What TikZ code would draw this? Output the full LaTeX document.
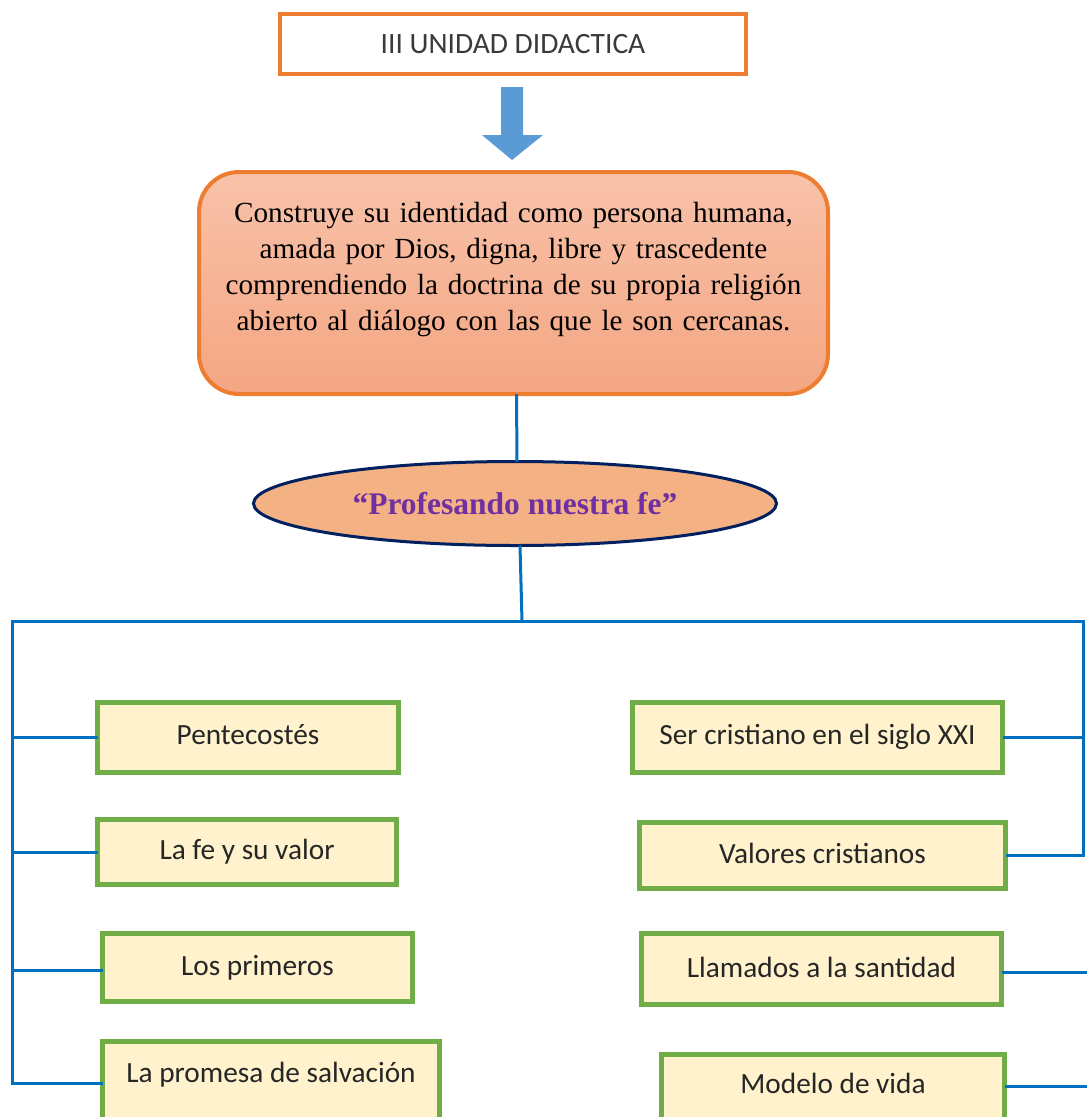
\documentclass[tikz,border=0pt]{standalone}
\usepackage{fontspec}
\setmainfont{Liberation Serif}
\newfontfamily\calfont{Carlito}
\usetikzlibrary{shapes.geometric}
\definecolor{orangeB}{HTML}{ED7D31}
\definecolor{arrowblue}{HTML}{5B9BD5}
\definecolor{lineblue}{HTML}{0070C0}
\definecolor{goalTop}{HTML}{F8C2AA}
\definecolor{goalBot}{HTML}{F4A682}
\definecolor{ellFill}{HTML}{F4B183}
\definecolor{navyB}{HTML}{002060}
\definecolor{purpleT}{HTML}{7030A0}
\definecolor{greenB}{HTML}{70AD47}
\definecolor{boxFill}{HTML}{FFF2CC}
\definecolor{textdark}{HTML}{262626}
\definecolor{textgray}{HTML}{3A3A3A}
\begin{document}
\begin{tikzpicture}[x=1pt,y=-1pt,
  every node/.style={outer sep=0pt},
  topbox/.style={draw=orangeB, line width=4pt, fill=white, minimum width=466pt, minimum height=60pt, inner sep=0pt, font=\calfont\fontsize{29.5}{34}\selectfont, text=textgray},
  goalbox/.style={draw=orangeB, line width=4pt, rounded corners=40pt, top color=goalTop, bottom color=goalBot, minimum width=629pt, minimum height=222pt, text width=615pt, align=center, inner sep=0pt, font=\fontsize{29.2}{36}\selectfont, text=black},
  themeell/.style={ellipse, draw=navyB, line width=3pt, fill=ellFill, minimum width=523pt, minimum height=84pt, inner sep=0pt, font=\bfseries\fontsize{31.5}{36}\selectfont, text=purpleT},
  topic/.style={draw=greenB, line width=5pt, fill=boxFill, inner sep=0pt, font=\calfont\fontsize{29.3}{34}\selectfont, text=textdark},
  conn/.style={draw=lineblue, line width=3pt}
]
\useasboundingbox (0,0) rectangle (1087,1117);
\clip (0,0) rectangle (1087,1117);

% title box and block arrow
\node[topbox] (top) at (513,44) {III UNIDAD DIDACTICA};
\fill[arrowblue] (501,87) -- (523,87) -- (523,135) -- (543,135) -- (512,160) -- (482,135) -- (501,135) -- cycle;

% competence box
\node[goalbox] (goal) at (513.5,283) {Construye su identidad como persona humana,\\
amada por Dios, digna, libre y trascedente\\
comprendiendo la doctrina de su propia religión\\
abierto al diálogo con las que le son cercanas.\rule[-34pt]{0pt}{34pt}};

% theme ellipse
\node[themeell] (theme) at (515,503.5) {“Profesando nuestra fe”};

% topic boxes, left column
\node[topic, minimum width=301pt, minimum height=70pt] (p1) at (248,737.5) {Pentecostés\rule[-6pt]{0pt}{6pt}};
\node[topic, minimum width=299pt, minimum height=65pt] (p2) at (247,852) {La fe y su valor};
\node[topic, minimum width=310pt, minimum height=68pt] (p3) at (257.5,967.5) {Los primeros};
\node[topic, minimum width=337pt, inner ysep=0pt, text height=40.5pt, text depth=60pt, anchor=north] (p4) at (271,1041.5) {La promesa de salvación};

% topic boxes, right column
\node[topic, minimum width=370pt, minimum height=70pt] (r1) at (817.5,737.5) {Ser cristiano en el siglo XXI\rule[-6pt]{0pt}{6pt}};
\node[topic, minimum width=366pt, minimum height=66pt] (r2) at (822.5,855.5) {Valores cristianos\rule[-4pt]{0pt}{4pt}};
\node[topic, minimum width=360pt, minimum height=71pt] (r3) at (821.5,969) {Llamados a la santidad\rule[-4pt]{0pt}{4pt}};
\node[topic, minimum width=343pt, inner ysep=0pt, text height=38.5pt, text depth=60pt, anchor=north] (r4) at (833,1054.5) {Modelo de vida};

% connectors
\coordinate (busL) at (12,621);
\coordinate (busR) at (1083.5,621);
\coordinate (busM) at (522,621);
\coordinate (edgeR) at (1092,0);

\draw[conn] ([xshift=3pt]goal.south) -- ([xshift=2pt]theme.north);
\draw[conn] ([xshift=5pt]theme.south) -- (busM);
\draw[conn] (busM) -- (busL) |- ([yshift=-41.5pt]p4.north west);
\draw[conn] (busM) -- (busR) |- (r2.east);

\draw[conn] (p1.west) -- (p1.west -| busL);
\draw[conn] (p2.west) -- (p2.west -| busL);
\draw[conn] ([yshift=-3pt]p3.west) -- ([yshift=-3pt]p3.west -| busL);

\draw[conn] (r1.east) -- (r1.east -| busR);
\draw[conn] ([yshift=-3pt]r3.east) -- ([yshift=-3pt]r3.east -| edgeR);
\draw[conn] ([yshift=-31.5pt]r4.north east) -- ([yshift=-31.5pt]r4.north east -| edgeR);
\end{tikzpicture}
\end{document}
